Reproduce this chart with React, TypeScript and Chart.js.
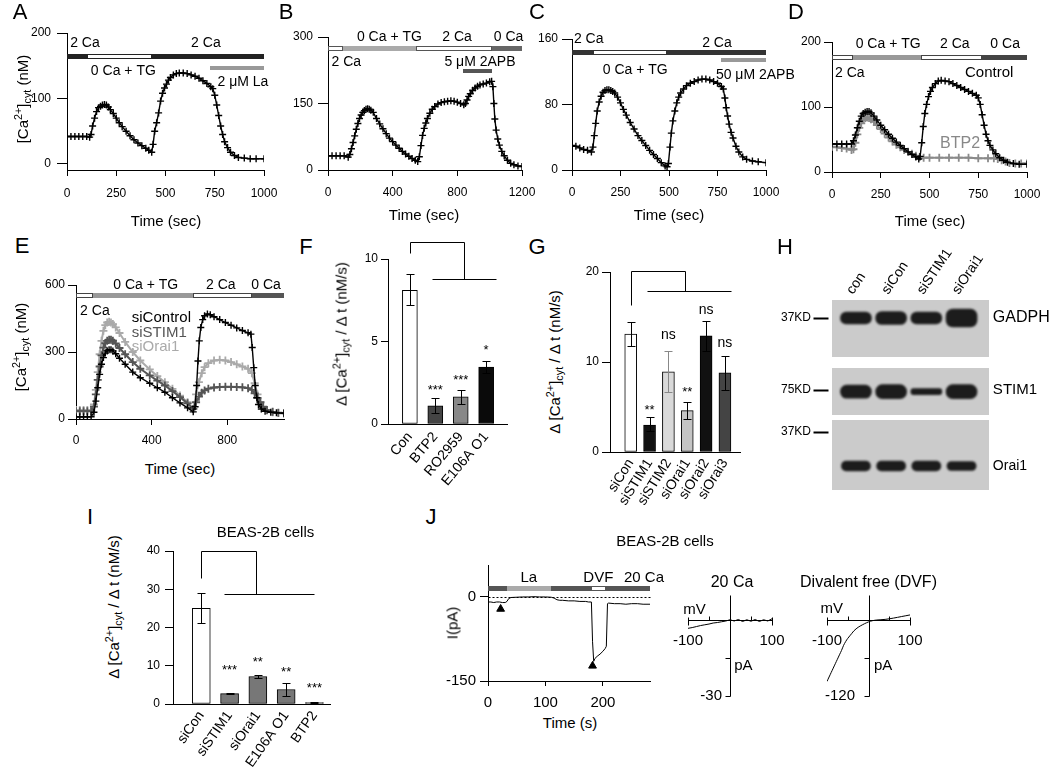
import React, { useEffect, useRef } from 'react';
import { Chart, registerables } from 'chart.js';

Chart.register(...registerables);
const FONT = "'Liberation Sans', Arial, Helvetica, sans-serif";
Chart.defaults.font.family = FONT;
Chart.defaults.color = '#000';

/* ================= DATA ================= */
// A
const A_TIME = [0,20,40,60,80,100,115,122,130,140,150,160,170,180,190,200,210,220,235,250,265,280,300,320,340,360,380,400,415,430,437,445,455,465,475,485,495,505,515,525,540,555,570,590,610,630,650,670,690,710,730,740,750,760,770,780,790,800,815,830,850,870,900,930,960,1000];
const A_CA = [42,42,42,42,42,42,41,45,58,70,80,86,88,90,91,90,87,83,77,70,63,57,50,43,37,32,28,24,21,18,30,50,63,78,96,108,116,122,128,132,136,138,139,139,138,136,134,131,127,123,118,115,105,90,74,58,45,34,25,18,13,10,9,8,8,8];
const A_XTICKS = [0,250,500,750,1000];
const A_YTICKS = [0,100,200];
// B
const B_TIME = [0,25,50,75,100,125,135,145,155,165,175,185,195,205,215,225,235,245,255,265,280,300,320,340,360,380,400,420,440,460,480,500,520,540,555,565,575,585,595,605,615,630,645,660,680,700,720,740,760,780,800,820,840,850,860,870,880,895,910,925,940,960,980,1000,1012,1020,1026,1032,1040,1050,1060,1075,1090,1110,1130,1150,1175,1200];
const B_CA = [32,32,32,32,32,29,35,48,62,77,92,105,116,124,130,134,137,138,137,135,130,116,104,93,82,72,64,56,49,42,36,31,26,22,19,30,55,78,94,106,116,128,137,143,149,152,154,155,156,155,153,150,147,150,158,166,172,180,185,189,192,194,196,199,200,188,150,115,90,70,56,42,32,22,15,12,9,8];
const B_XTICKS = [0,400,800,1200];
const B_YTICKS = [0,150,300];
// C
const C_TIME = [0,20,40,60,80,100,108,115,122,130,140,150,160,170,180,190,200,210,220,235,250,265,280,300,320,340,360,380,400,420,440,460,480,490,497,505,512,520,530,540,550,560,575,590,610,630,650,670,690,710,730,750,770,780,788,795,802,810,820,830,845,860,880,900,930,960,1000];
const C_CA = [30,29,27,25,24,22,28,42,57,72,83,90,95,97,98,98,97,96,94,89,82,74,67,58,50,42,36,30,24,19,14,9,5,4,8,28,45,60,72,82,89,94,99,103,106,108,110,111,111,110,108,106,102,99,88,76,66,56,46,39,29,22,16,13,11,10,9];
const C_XTICKS = [0,250,500,750,1000];
const C_YTICKS = [0,80,160];
// D
const D_CTRL_TIME = [0,25,50,75,100,110,120,130,140,150,160,170,180,190,200,215,230,250,270,290,310,330,350,370,390,410,430,445,452,460,468,476,485,495,505,515,530,545,560,580,600,620,640,660,680,700,720,740,750,760,770,780,790,800,810,825,840,860,880,900,930,960,1000];
const D_CTRL_CA = [43,43,43,43,43,48,57,68,78,86,90,92,93,93,91,86,80,72,65,58,52,46,41,36,31,27,23,20,24,45,70,90,104,116,124,130,136,140,141,140,139,136,133,130,127,124,121,118,114,104,88,72,58,48,41,34,28,22,18,15,13,12,12];
const D_BTP2_TIME = [0,25,50,75,100,110,120,130,140,150,160,170,180,190,200,215,230,250,270,290,310,330,350,370,390,410,430,450,470,500,550,600,650,700,750,800,830,850,870,890,910,940,970,1000];
const D_BTP2_CA = [39,38,37,36,34,35,45,58,68,75,80,83,84,83,81,77,72,66,59,53,47,42,38,34,31,28,25,23,22,22,22,22,22,22,21,21,21,20,18,16,14,13,13,13];
const D_XTICKS = [0,250,500,750,1000];
const D_YTICKS = [0,100,200];
// E
const E_CTRL_TIME = [0,20,40,60,80,95,105,115,125,135,145,155,165,175,185,195,210,230,260,300,340,390,430,470,510,550,590,620,630,638,645,652,660,670,680,695,710,730,760,790,820,850,880,910,925,932,940,948,956,965,980,1000,1030,1060,1100];
const E_CTRL_CA = [10,10,10,10,10,30,80,140,200,245,275,295,305,310,310,305,292,272,245,210,185,160,140,120,95,72,50,32,55,150,260,350,410,445,462,470,467,458,445,432,420,408,396,386,380,320,230,150,95,65,45,35,30,28,26];
const E_KD_TIME = [0,20,40,60,80,95,105,115,125,135,145,155,165,175,185,195,210,230,260,300,340,390,430,470,510,550,590,620,635,650,665,680,700,730,760,790,820,850,880,910,930,945,960,975,990,1010,1040,1070,1100];
const E_STIM1_CA = [35,35,35,35,35,55,110,175,235,285,320,340,350,355,355,350,338,318,290,255,225,195,172,150,125,98,70,45,75,100,118,128,136,141,143,144,144,143,142,138,130,115,95,75,55,40,32,28,26];
const E_ORAI1_CA = [40,40,40,40,40,65,130,210,290,350,395,420,432,435,432,425,410,385,345,300,262,222,192,165,135,105,75,45,110,165,205,232,250,262,265,262,255,245,235,225,205,160,110,75,52,38,30,27,25];
const E_XTICKS = [0,400,800];
const E_YTICKS = [0,300,600];
// F
const F_LABELS = ['Con','BTP2','RO2959','E106A O1'];
const F_RATE = [8.1,1.1,1.65,3.45];
const F_ERR_LO = [7.2,0.65,1.2,3.1];
const F_ERR_HI = [9.1,1.55,2.05,3.8];
const F_COLORS = ['#ffffff','#444444','#888888','#0a0a0a'];
const F_YTICKS = [0,5,10];
// G
const G_LABELS = ['siCon','siSTIM1','siSTIM2','siOrai1','siOrai2','siOrai3'];
const G_RATE = [13.1,3.0,8.9,4.6,12.9,8.8];
const G_ERR_LO = [11.8,2.3,6.7,3.7,11.2,6.9];
const G_ERR_HI = [14.4,3.9,11.2,5.6,14.6,10.7];
const G_COLORS = ['#ffffff','#111111','#d9d9d9','#c4c4c4','#111111','#444444'];
const G_ERR_COLORS = ['#000','#000','#888','#000','#000','#000'];
const G_YTICKS = [0,10,20];
// H
const H_LANES = ['con','siCon','siSTIM1','siOrai1'];
const H_GADPH = [12,13,12,18];
const H_STIM1 = [13,14,6,14];
const H_ORAI1 = [10,10,10,9];
// I
const I_LABELS = ['siCon','siSTIM1','siOrai1','E106A O1','BTP2'];
const I_RATE = [25,2.7,7.2,3.8,0.4];
const I_ERR_LO = [21.2,2.5,6.8,2.2,0.3];
const I_ERR_HI = [29,2.9,7.6,5.4,0.5];
const I_COLORS = ['#ffffff','#777777','#777777','#777777','#555555'];
const I_YTICKS = [0,10,20,30,40];
// J
const J_TIME = [0,5,10,15,20,25,30,33,36,40,50,60,70,80,90,100,110,115,120,125,130,140,150,160,170,175,180,182,184,186,190,195,200,204,206,208,210,220,230,240,250,260,270,282];
const J_CURRENT = [-9,-9,-10,-9,-9,-10,-10,-8,-3,-1,-0.5,0,0,0.5,0,0,-0.5,-2,-5,-6,-6,-7,-7,-8,-8,-9,-9,-80,-115,-110,-106,-102,-97,-92,-88,-12,-11,-12,-12,-13,-12,-12,-13,-13];
const J_MARK_TIME = [22,182];
const J_MARK_CURRENT = [-21.5,-123];
const J_XTICKS = [0,100,200];
const J_YTICKS = [-150,0];
// IV
const IV20_MV = [-100,-90,-80,-70,-60,-50,-40,-30,-20,-10,0,10,20,30,40,50,60,70,80,90,100];
const IV20_PA = [-3.2,-2.9,-2.5,-2.1,-1.8,-1.5,-1.1,-0.9,-0.6,-0.3,0.2,-0.3,0.3,-0.5,0.2,-0.4,0.3,-0.5,0.2,-0.3,0.6];
const DVF_MV = [-100,-95,-90,-85,-80,-75,-70,-65,-60,-55,-50,-45,-40,-35,-30,-25,-20,-10,0,10,20,40,60,80,100];
const DVF_PA = [-97,-90,-83,-76,-69,-62,-55,-48,-40,-34,-29,-25,-21,-17,-14,-11.5,-9.5,-6,-3,-1,0,1,3,5.5,8];

/* ================= HELPERS ================= */
type Box = { x0: number; y0: number; x1: number; y1: number; l: number; t: number; r: number; b: number };

const txt = (x: number, y: number, s: string, o: any = {}) => ({ k: 'text', x, y, s, ...o });
const seg = (x1: number, x2: number, y: number, h: number, fill: string, stroke?: string) => ({ k: 'seg', x1, x2, y, h, fill, stroke });
const path = (pts: number[][], o: any = {}) => ({ k: 'path', pts, ...o });
const err = (x: number, lo: number, hi: number, cap: number, color = '#000') => ({ k: 'err', x, lo, hi, cap, color });
const tick = (x: number, y: number, d: number[]) => ({ k: 'tick', x, y, d });
const rect = (x1: number, x2: number, y1: number, y2: number, fill: string) => ({ k: 'rect', x1, x2, y1, y2, fill });

function paint(chart: any, list: any[]) {
  const ctx: CanvasRenderingContext2D = chart.ctx;
  const X = (v: number) => chart.scales.x.getPixelForValue(v);
  const Y = (v: number) => chart.scales.y.getPixelForValue(v);
  for (const p of list) {
    ctx.save();
    if (p.k === 'seg') {
      const x1 = Math.round(X(p.x1)), x2 = Math.round(X(p.x2)), yc = Math.round(Y(p.y));
      const top = yc - Math.floor(p.h / 2);
      ctx.fillStyle = p.fill;
      ctx.fillRect(x1, top, x2 - x1, p.h);
      if (p.stroke) {
        ctx.strokeStyle = p.stroke; ctx.lineWidth = 1;
        ctx.strokeRect(x1 + 0.5, top + 0.5, x2 - x1 - 1, p.h - 1);
      }
    } else if (p.k === 'rect') {
      const x1 = X(p.x1), x2 = X(p.x2), y1 = Y(p.y1), y2 = Y(p.y2);
      ctx.fillStyle = p.fill;
      ctx.fillRect(Math.min(x1, x2), Math.min(y1, y2), Math.abs(x2 - x1), Math.abs(y2 - y1));
    } else if (p.k === 'text') {
      ctx.font = `${p.size ?? 14}px ${FONT}`;
      ctx.fillStyle = p.color ?? '#000';
      ctx.textAlign = p.align ?? 'center';
      ctx.textBaseline = p.base ?? 'middle';
      ctx.translate(X(p.x), Y(p.y));
      if (p.rot) ctx.rotate((p.rot * Math.PI) / 180);
      ctx.fillText(p.s, 0, 0);
    } else if (p.k === 'path') {
      ctx.strokeStyle = p.color ?? '#000';
      ctx.lineWidth = p.w ?? 1;
      if (p.dash) ctx.setLineDash(p.dash);
      ctx.beginPath();
      p.pts.forEach((q: number[], i: number) => {
        const px = Math.round(X(q[0])) + 0.5, py = Math.round(Y(q[1])) + 0.5;
        if (i) ctx.lineTo(px, py); else ctx.moveTo(px, py);
      });
      ctx.stroke();
    } else if (p.k === 'err') {
      const x = Math.round(X(p.x)) + 0.5, y1 = Math.round(Y(p.lo)) + 0.5, y2 = Math.round(Y(p.hi)) + 0.5;
      ctx.strokeStyle = p.color; ctx.lineWidth = 1;
      ctx.beginPath();
      ctx.moveTo(x, y1); ctx.lineTo(x, y2);
      ctx.moveTo(x - p.cap / 2, y1); ctx.lineTo(x + p.cap / 2, y1);
      ctx.moveTo(x - p.cap / 2, y2); ctx.lineTo(x + p.cap / 2, y2);
      ctx.stroke();
    } else if (p.k === 'tick') {
      const x = Math.round(X(p.x)) + 0.5, y = Math.round(Y(p.y)) + 0.5;
      ctx.strokeStyle = '#000'; ctx.lineWidth = 1;
      ctx.beginPath(); ctx.moveTo(x + p.d[0], y + p.d[1]); ctx.lineTo(x + p.d[2], y + p.d[3]); ctx.stroke();
    }
    ctx.restore();
  }
}

function decor(under: any[], over: any[], blur?: string) {
  return {
    id: 'decor',
    beforeDatasetsDraw(chart: any) {
      paint(chart, under);
      if (blur) { chart.ctx.save(); chart.ctx.filter = blur; }
    },
    afterDatasetsDraw(chart: any) {
      if (blur) chart.ctx.restore();
      paint(chart, over);
    },
  };
}

function ax(axis: 'x' | 'y', min: number, max: number, ticks: number[], tl: number, pad: number, size: number, thick: number, labels?: (v: number) => string, rot = 0) {
  return {
    type: 'linear', position: axis === 'x' ? 'bottom' : 'left', min, max, offset: false,
    afterBuildTicks: (s: any) => { s.ticks = ticks.map((v) => ({ value: v })); },
    afterFit: (s: any) => {
      if (axis === 'x') s.height = thick; else s.width = thick;
      s.paddingLeft = 0; s.paddingRight = 0; s.paddingTop = 0; s.paddingBottom = 0;
    },
    grid: { display: tl > 0, drawOnChartArea: false, drawTicks: tl > 0, tickLength: tl, color: '#000', tickColor: '#000', lineWidth: 1, offset: false },
    border: { display: true, color: '#000', width: 1 },
    ticks: {
      autoSkip: false, color: '#000', padding: pad, font: { family: FONT, size }, maxRotation: rot, minRotation: rot,
      callback: labels ?? ((v: any) => String(v)),
    },
  };
}

function trace(t: number[], v: number[], color: string, o: any = {}) {
  return {
    type: 'line', data: t.map((x, i) => ({ x, y: v[i] })), borderColor: color, backgroundColor: color,
    borderWidth: o.w ?? 1.4, pointStyle: 'cross', pointRadius: o.r ?? 3.5, pointBorderWidth: o.pw ?? 1.4,
    pointBorderColor: color, pointBackgroundColor: color, tension: 0,
  };
}

function axesChart(type: string, box: Box, xs: any, ys: any, datasets: any[], over: any[]) {
  return {
    type,
    data: { datasets },
    options: {
      responsive: false, animation: false, events: [],
      layout: { padding: { left: 0, top: box.t, right: box.r, bottom: 0 } },
      scales: { x: xs, y: ys },
      plugins: { legend: { display: false }, tooltip: { enabled: false } },
    },
    plugins: [decor([], over)],
  };
}

function bareChart(type: string, box: Box, xr: number[], yr: number[], datasets: any[], under: any[], over: any[], blur?: string) {
  return {
    type,
    data: { datasets },
    options: {
      responsive: false, animation: false, events: [],
      layout: { padding: { left: box.l, top: box.t, right: box.r, bottom: box.b } },
      scales: {
        x: { type: 'linear', display: false, min: xr[0], max: xr[1], offset: false },
        y: { type: 'linear', display: false, min: yr[0], max: yr[1] },
      },
      plugins: { legend: { display: false }, tooltip: { enabled: false } },
    },
    plugins: [decor(under, over, blur)],
  };
}

function barData(vals: number[], colors: string[], thick: number) {
  return {
    type: 'bar', data: vals.map((v, i) => ({ x: i + 1, y: v })), backgroundColor: colors,
    borderColor: '#000', borderWidth: 1, borderSkipped: false, barThickness: thick, grouped: false,
  };
}

function errs(lo: number[], hi: number[], cap: number, colors?: string[]) {
  return lo.map((l, i) => err(i + 1, l, hi[i], cap, colors ? colors[i] : '#000'));
}

/* ================= PANELS ================= */
const BOX_A: Box = { x0: 67, y0: 33, x1: 264, y1: 170, l: 67, t: 33, r: 30, b: 42 };
const BOX_B: Box = { x0: 328, y0: 37, x1: 522, y1: 170, l: 40, t: 37, r: 25, b: 42 };
const BOX_C: Box = { x0: 572, y0: 39, x1: 766, y1: 170, l: 40, t: 39, r: 30, b: 42 };
const BOX_D: Box = { x0: 832, y0: 42, x1: 1027, y1: 172, l: 40, t: 42, r: 23, b: 40 };
const BOX_E: Box = { x0: 76, y0: 285, x1: 284, y1: 419, l: 76, t: 20, r: 20, b: 35 };
const BOX_F: Box = { x0: 388, y0: 259, x1: 507, y1: 424, l: 40, t: 30, r: 15, b: 80 };
const BOX_G: Box = { x0: 610, y0: 272, x1: 740, y1: 452, l: 40, t: 20, r: 15, b: 70 };
const BOX_H: Box = { x0: 832, y0: 300, x1: 989, y1: 490, l: 72, t: 70, r: 61, b: 10 };
const BOX_I: Box = { x0: 173, y0: 551, x1: 330, y1: 704, l: 40, t: 30, r: 10, b: 71 };
const BOX_J: Box = { x0: 488, y0: 565, x1: 650, y1: 681, l: 45, t: 35, r: 70, b: 30 };
const BOX_IV20: Box = { x0: 688, y0: 595, x1: 772, y1: 696, l: 20, t: 25, r: 20, b: 15 };
const BOX_DVF: Box = { x0: 827, y0: 595, x1: 910, y1: 696, l: 40, t: 25, r: 40, b: 15 };

const specs: { box: Box; make: () => any }[] = [
  {
    box: BOX_A,
    make: () => axesChart('line', BOX_A,
      ax('x', 0, 1000, A_XTICKS, 6, 10, 12, BOX_A.b), ax('y', -9.2, 200, A_YTICKS, 10, 6, 12, BOX_A.l),
      [trace(A_TIME, A_CA, '#000')],
      [seg(0, 100, 165.5, 5, '#222', '#222'), seg(430, 1000, 165.5, 5, '#222', '#222'), seg(100, 430, 165.5, 5, '#fff', '#222'),
        seg(725, 1000, 147, 4, '#999'),
        txt(91, 184.7, '2 Ca'), txt(705, 184.7, '2 Ca'), txt(286, 141, '0 Ca + TG'), txt(893, 125.6, '2 \u03bcM La')]),
  },
  {
    box: BOX_B,
    make: () => axesChart('line', BOX_B,
      ax('x', 0, 1200, B_XTICKS, 6, 9, 12, BOX_B.b), ax('y', 0, 300, B_YTICKS, 10, 5, 12, BOX_B.l),
      [trace(B_TIME, B_CA, '#000')],
      [seg(0, 93, 274.5, 5, '#fff', '#555'), seg(93, 546, 274.5, 5, '#aaa', '#aaa'), seg(546, 1014, 274.5, 5, '#fff', '#555'), seg(1014, 1200, 274.5, 5, '#666', '#666'),
        seg(835, 1014, 224, 4, '#555'),
        txt(380, 299, '0 Ca + TG'), txt(798, 299, '2 Ca'), txt(1117, 299, '0 Ca'), txt(113, 244, '2 Ca'), txt(940, 244, '5 \u03bcM 2APB')]),
  },
  {
    box: BOX_C,
    make: () => axesChart('line', BOX_C,
      ax('x', 0, 1000, C_XTICKS, 6, 9, 12, BOX_C.b), ax('y', 0, 160, C_YTICKS, 10, 4, 12, BOX_C.l),
      [trace(C_TIME, C_CA, '#000')],
      [seg(0, 106, 143.7, 5, '#333', '#333'), seg(490, 1000, 143.7, 5, '#333', '#333'), seg(106, 490, 143.7, 5, '#fff', '#333'),
        seg(770, 1000, 134.3, 4, '#999'),
        txt(86, 159.9, '2 Ca'), txt(747, 155.4, '2 Ca'), txt(326, 122, '0 Ca + TG'), txt(945, 116, '50 \u03bcM 2APB')]),
  },
  {
    box: BOX_D,
    make: () => axesChart('line', BOX_D,
      ax('x', 0, 1000, D_XTICKS, 6, 9, 12, BOX_D.b), ax('y', 0, 200, D_YTICKS, 8, 3, 12, BOX_D.l),
      [trace(D_CTRL_TIME, D_CTRL_CA, '#000'), trace(D_BTP2_TIME, D_BTP2_CA, '#8a8a8a', { w: 2, r: 4, pw: 1.8 })],
      [seg(0, 106, 176.5, 5, '#fff', '#444'), seg(106, 456, 176.5, 5, '#999', '#999'), seg(456, 769, 176.5, 5, '#fff', '#444'), seg(769, 1000, 176.5, 5, '#444', '#444'),
        txt(288, 196.4, '0 Ca + TG'), txt(630, 196.4, '2 Ca'), txt(888, 196.4, '0 Ca'), txt(91, 151.8, '2 Ca'),
        txt(806, 151.8, 'Control', { size: 15 }), txt(657, 44.2, 'BTP2', { size: 16, color: '#888' })]),
  },
  {
    box: BOX_E,
    make: () => axesChart('line', BOX_E,
      ax('x', 0, 1100, E_XTICKS, 6, 8, 12, BOX_E.b), ax('y', 0, 600, E_YTICKS, 8, 3, 12, BOX_E.l),
      [trace(E_CTRL_TIME, E_CTRL_CA, '#000'),
        trace(E_KD_TIME, E_STIM1_CA, '#555', { w: 2, r: 4, pw: 1.8 }),
        trace(E_KD_TIME, E_ORAI1_CA, '#aaa', { w: 2, r: 4, pw: 1.8 })],
      [seg(0, 88, 555, 5, '#fff', '#444'), seg(88, 621, 555, 5, '#999', '#999'), seg(621, 930, 555, 5, '#fff', '#444'), seg(930, 1100, 555, 5, '#555', '#555'),
        txt(369, 600, '0 Ca + TG'), txt(766, 600, '2 Ca'), txt(1005, 600, '0 Ca'), txt(100, 485, '2 Ca'),
        txt(295, 453, 'siControl', { align: 'left', size: 15 }), txt(295, 386, 'siSTIM1', { align: 'left', size: 15, color: '#555' }),
        txt(295, 322, 'siOrai1', { align: 'left', size: 15, color: '#aaa' })]),
  },
  {
    box: BOX_F,
    make: () => axesChart('bar', BOX_F,
      ax('x', 0.14, 4.82, [1, 2, 3, 4], 0, 5, 14, BOX_F.b, (v) => F_LABELS[Math.round(v) - 1] ?? '', 50),
      ax('y', 0, 10, F_YTICKS, 7, 3, 12, BOX_F.l),
      [barData(F_RATE, F_COLORS, 15)],
      [...errs(F_ERR_LO, F_ERR_HI, 8),
        txt(2, 1.84, '***', { size: 13, base: 'alphabetic' }), txt(3, 2.44, '***', { size: 13, base: 'alphabetic' }), txt(4, 4.26, '*', { size: 13, base: 'alphabetic' }),
        path([[1, 10.36], [1, 11], [3.13, 11], [3.13, 8.79]]), path([[1.87, 8.79], [4.37, 8.79]])]),
  },
  {
    box: BOX_G,
    make: () => axesChart('bar', BOX_G,
      ax('x', -0.1, 6.8, [1, 2, 3, 4, 5, 6], 0, 4, 14, BOX_G.b, (v) => G_LABELS[Math.round(v) - 1] ?? '', 58),
      ax('y', 0, 20, G_YTICKS, 8, 3, 12, BOX_G.l),
      [barData(G_RATE, G_COLORS, 12)],
      [...errs(G_ERR_LO, G_ERR_HI, 8, G_ERR_COLORS),
        txt(2, 4.26, '**', { size: 13, base: 'alphabetic' }), txt(4, 6.22, '**', { size: 13, base: 'alphabetic' }),
        txt(3, 12.59, 'ns', { size: 14, base: 'alphabetic' }), txt(5, 15.37, 'ns', { size: 14, base: 'alphabetic' }), txt(6, 11.7, 'ns', { size: 14, base: 'alphabetic' }),
        path([[1, 16.3], [1, 20.1], [3.88, 20.1], [3.88, 17.9]]), path([[1.85, 17.9], [6.3, 17.9]])]),
  },
  {
    box: BOX_I,
    make: () => axesChart('bar', BOX_I,
      ax('x', 0, 5.55, [1, 2, 3, 4, 5], 0, 4, 14, BOX_I.b, (v) => I_LABELS[Math.round(v) - 1] ?? '', 55),
      ax('y', 0, 40, I_YTICKS, 8, 5, 12, BOX_I.l),
      [barData(I_RATE, I_COLORS, 18)],
      [...errs(I_ERR_LO, I_ERR_HI, 8),
        txt(2, 7.92, '***', { size: 13, base: 'alphabetic' }), txt(3, 9.93, '**', { size: 13, base: 'alphabetic' }),
        txt(4, 7.32, '**', { size: 13, base: 'alphabetic' }), txt(5, 3.14, '***', { size: 13, base: 'alphabetic' }),
        path([[1, 32.9], [1, 40.1], [2.92, 40.1], [2.92, 28.7]]), path([[1.8, 28.7], [4.97, 28.7]]),
        txt(3.27, 44.7, 'BEAS-2B cells', { size: 15 })]),
  },
  {
    box: BOX_J,
    make: () => axesChart('line', BOX_J,
      ax('x', 0, 282, J_XTICKS, 5, 8, 15, BOX_J.b), ax('y', -150, 57, J_YTICKS, 8, 4, 15, BOX_J.l),
      [{ type: 'line', data: J_MARK_TIME.map((x, i) => ({ x, y: J_MARK_CURRENT[i] })), showLine: false, pointStyle: 'triangle', pointRadius: 4.5, pointBackgroundColor: '#000', pointBorderColor: '#000', borderColor: '#000' },
        { type: 'line', data: J_TIME.map((x, i) => ({ x, y: J_CURRENT[i] })), borderColor: '#000', borderWidth: 1, pointRadius: 0, tension: 0 }],
      [path([[0, 0], [282, 0]], { dash: [2, 2] }),
        seg(0, 33, 16.1, 5, '#555', '#555'), seg(33, 110, 16.1, 5, '#aaa', '#aaa'), seg(110, 179, 16.1, 5, '#555', '#555'), seg(179, 206, 16.1, 5, '#fff', '#555'), seg(206, 282, 16.1, 5, '#555', '#555'),
        txt(71, 34, 'La', { size: 15 }), txt(192, 34, 'DVF', { size: 15 }), txt(271.5, 34, '20 Ca', { size: 15 }),
        txt(308, 98.5, 'BEAS-2B cells', { size: 15 })]),
  },
  {
    box: BOX_IV20,
    make: () => bareChart('line', BOX_IV20, [-100, 100], [-30, 10],
      [{ type: 'line', data: IV20_MV.map((x, i) => ({ x, y: IV20_PA[i] })), borderColor: '#000', borderWidth: 1, pointRadius: 0, tension: 0 }],
      [],
      [path([[-100, 0], [100, 0]]), path([[0, 10], [0, -30]]),
        tick(-100, 0, [0, -3, 0, 5]), tick(100, 0, [0, -3, 0, 5]), tick(-50, 0, [0, -4, 0, 0]), tick(50, 0, [0, -4, 0, 0]),
        tick(0, -15, [-5, 0, 0, 0]), tick(0, -30, [-5, 0, 0, 0]),
        txt(-84.5, 4.3, 'mV', { size: 15 }), txt(-100, -8.3, '-100', { size: 15 }), txt(100, -8.3, '100', { size: 15 }),
        txt(10, -18.2, 'pA', { size: 15, align: 'left' }), txt(-19, -30, '-30', { size: 15, align: 'right' }),
        txt(4.8, 14.9, '20 Ca', { size: 16 })]),
  },
  {
    box: BOX_DVF,
    make: () => bareChart('line', BOX_DVF, [-100, 100], [-120, 39.5],
      [{ type: 'line', data: DVF_MV.map((x, i) => ({ x, y: DVF_PA[i] })), borderColor: '#000', borderWidth: 1, pointRadius: 0, tension: 0.3 }],
      [],
      [path([[-100, 0], [100, 0]]), path([[0, 39.5], [0, -120]]),
        tick(-100, 0, [0, -3, 0, 5]), tick(100, 0, [0, -3, 0, 5]), tick(-50, 0, [0, -4, 0, 0]), tick(50, 0, [0, -4, 0, 0]),
        tick(0, -60, [-5, 0, 0, 0]), tick(0, -120, [-5, 0, 0, 0]),
        txt(-88.7, 17.4, 'mV', { size: 15 }), txt(-100, -33.2, '-100', { size: 15 }), txt(100, -33.2, '100', { size: 15 }),
        txt(13.3, -72.7, 'pA', { size: 15, align: 'left' }), txt(-32.5, -120, '-120', { size: 15, align: 'right' }),
        txt(0, 58.9, 'Divalent free (DVF)', { size: 16 })]),
  },
  {
    box: BOX_H,
    make: () => {
      const band = (h: number[], c: number, w: number) => ({
        type: 'bar', data: h.map((v, i) => ({ x: i + 1, y: [c - v / 2, c + v / 2] })),
        backgroundColor: '#1c1c1c', borderWidth: 0, borderRadius: 7, borderSkipped: false, barThickness: w, grouped: false,
      });
      return bareChart('bar', BOX_H, [0.32, 4.78], [0, 190],
        [band(H_GADPH, 172, 31), band(H_STIM1, 98.3, 31), band(H_ORAI1, 24, 29)],
        [rect(0.32, 4.78, 133, 190, '#cbcbcb'), rect(0.32, 4.78, 75, 122, '#cbcbcb'), rect(0.32, 4.78, 0, 70, '#cbcbcb')],
        [...H_LANES.map((s, i) => txt(i + 0.92, 195, s, { size: 14, align: 'left', base: 'alphabetic', rot: -56 })),
          txt(-0.277, 172, '37KD', { size: 12, align: 'right' }), path([[-0.22, 172], [0.206, 172]], { w: 2 }),
          txt(-0.277, 100, '75KD', { size: 12, align: 'right' }), path([[-0.22, 100], [0.206, 100]], { w: 2 }),
          txt(-0.277, 58, '37KD', { size: 12, align: 'right' }), path([[-0.22, 58], [0.206, 58]], { w: 2 }),
          txt(4.89, 172, 'GADPH', { size: 16, align: 'left' }), txt(4.89, 100, 'STIM1', { size: 15, align: 'left' }),
          txt(4.89, 24, 'Orai1', { size: 14, align: 'left' })],
        'blur(1px)');
    },
  },
];

/* ================= COMPONENTS ================= */
function ChartCanvas({ spec }: { spec: { box: Box; make: () => any } }) {
  const ref = useRef<HTMLCanvasElement>(null);
  const b = spec.box;
  const left = b.x0 - b.l, top = b.y0 - b.t;
  const width = b.x1 - b.x0 + b.l + b.r, height = b.y1 - b.y0 + b.t + b.b;
  useEffect(() => {
    const chart = new Chart(ref.current as HTMLCanvasElement, spec.make());
    return () => chart.destroy();
  }, [spec]);
  return <canvas ref={ref} width={width} height={height} style={{ position: 'absolute', left, top, width, height }} />;
}

const Sup = ({ children }: any) => <span style={{ fontSize: '0.72em', position: 'relative', top: '-0.55em' }}>{children}</span>;
const Sub = ({ children }: any) => <span style={{ fontSize: '0.72em', position: 'relative', top: '0.3em' }}>{children}</span>;

function Label({ x, y, size = 15, rot = 0, children }: any) {
  return (
    <div style={{ position: 'absolute', left: x, top: y, transform: `translate(-50%,-50%) rotate(${rot}deg)`, fontSize: size, lineHeight: 1, whiteSpace: 'nowrap', fontFamily: FONT, color: '#000' }}>
      {children}
    </div>
  );
}

const CaTitle = () => <>[Ca<Sup>2+</Sup>]<Sub>cyt</Sub> (nM)</>;
const RateTitle = () => <>{'\u0394'} [Ca<Sup>2+</Sup>]<Sub>cyt</Sub> / {'\u0394'} t (nM/s)</>;

export default function App() {
  return (
    <div style={{ position: 'absolute', left: 0, top: 0, width: 1050, height: 775, background: '#fff', overflow: 'hidden', fontFamily: FONT }}>
      {specs.map((s, i) => <ChartCanvas key={i} spec={s} />)}
      <Label x={20} y={12} size={22}>A</Label>
      <Label x={286} y={12} size={22}>B</Label>
      <Label x={537} y={12} size={22}>C</Label>
      <Label x={796} y={12} size={22}>D</Label>
      <Label x={22} y={246} size={22}>E</Label>
      <Label x={306} y={247} size={22}>F</Label>
      <Label x={537} y={247} size={22}>G</Label>
      <Label x={785} y={247} size={22}>H</Label>
      <Label x={90} y={517} size={22}>I</Label>
      <Label x={431} y={517} size={22}>J</Label>

      <Label x={166} y={220}>Time (sec)</Label>
      <Label x={424} y={214}>Time (sec)</Label>
      <Label x={669} y={214}>Time (sec)</Label>
      <Label x={930} y={220}>Time (sec)</Label>
      <Label x={180} y={468}>Time (sec)</Label>
      <Label x={570} y={722}>Time (s)</Label>

      <Label x={22} y={99} rot={-90}><CaTitle /></Label>
      <Label x={20} y={347} rot={-90}><CaTitle /></Label>
      <Label x={341} y={334} rot={-90}><RateTitle /></Label>
      <Label x={554} y={362} rot={-90}><RateTitle /></Label>
      <Label x={113} y={607} rot={-90}><RateTitle /></Label>
      <Label x={452} y={623} rot={-90}>I(pA)</Label>
    </div>
  );
}
